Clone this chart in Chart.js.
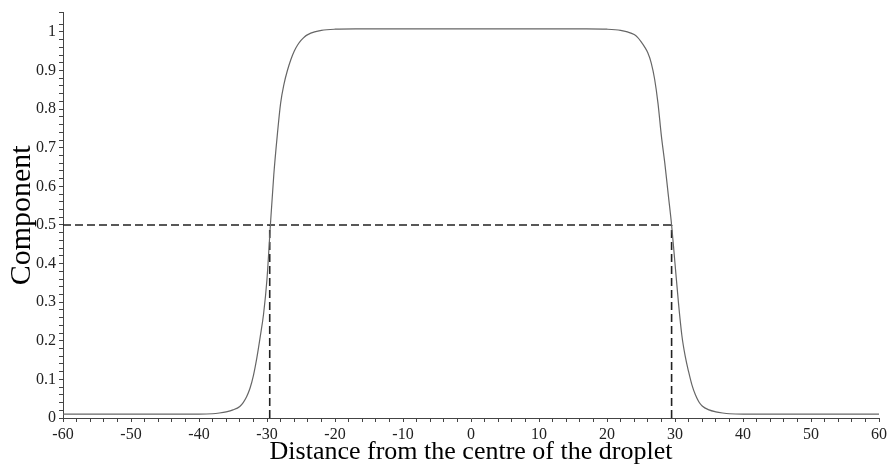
<!DOCTYPE html>
<html>
<head>
<meta charset="utf-8">
<script src="https://cdn.jsdelivr.net/npm/chart.js@4/dist/chart.umd.min.js"></script>
<style>
html,body{margin:0;padding:0;background:#fff;}
#wrap{width:887px;height:470px;}
</style>
</head>
<body>
<div id="wrap"><canvas id="c" width="887" height="470"></canvas></div>
<script>
// Profile of the component across the droplet
const distance = [-60,-45,-40,-38,-37,-36,-35,-34,-33.5,-33,-32.5,-32,-31.5,-31,-30.5,-30,-29.5,-29,-28.5,-28,-27.5,-27,-26.5,-26,-25.5,-25,-24.5,-24,-23,-22,-20,-17,0,17,20,22,23,24,24.5,25,25.5,26,26.5,27,27.5,28,28.5,29,29.5,30,30.5,31,31.5,32,32.5,33,33.5,34,35,36,37,38,40,45,60];
const component = [0.01,0.01,0.01,0.011,0.013,0.016,0.021,0.03,0.04,0.055,0.077,0.11,0.155,0.21,0.27,0.36,0.5,0.63,0.73,0.815,0.865,0.9,0.928,0.95,0.966,0.978,0.987,0.993,1.0,1.004,1.007,1.008,1.008,1.008,1.007,1.004,1.0,0.993,0.986,0.975,0.962,0.946,0.92,0.878,0.815,0.73,0.66,0.58,0.5,0.40,0.30,0.215,0.16,0.12,0.085,0.06,0.042,0.031,0.021,0.016,0.013,0.011,0.01,0.01,0.01];
// Half-level markers
const halfLevel = 0.5;
const leftHalfX = -29.6;
const rightHalfX = 29.5;
const xMin = -60, xMax = 60;
const yMin = 0, yMax = 1.05;

const curve = distance.map((x,i)=>({x:x,y:component[i]}));
const dashStyle = {borderColor:'#222',borderWidth:1.6,borderDash:[8,4],pointRadius:0,showLine:true,fill:false,tension:0};
const serif = '"Liberation Serif", "Times New Roman", serif';

new Chart(document.getElementById('c'),{
  type:'scatter',
  data:{datasets:[
    {data:curve,borderColor:'#666',borderWidth:1.2,pointRadius:0,showLine:true,fill:false,cubicInterpolationMode:'monotone'},
    Object.assign({data:[{x:xMin,y:halfLevel},{x:rightHalfX,y:halfLevel}]},dashStyle),
    Object.assign({data:[{x:leftHalfX,y:yMin},{x:leftHalfX,y:halfLevel}]},dashStyle),
    Object.assign({data:[{x:rightHalfX,y:yMin},{x:rightHalfX,y:halfLevel}]},dashStyle)
  ]},
  options:{
    responsive:false,
    animation:false,
    layout:{padding:{top:8,right:0,left:0,bottom:0}},
    plugins:{legend:{display:false},tooltip:{enabled:false}},
    scales:{
      x:{
        type:'linear',min:xMin,max:xMax,
        grid:{drawOnChartArea:false,drawTicks:true,tickLength:4,color:'#444'},
        border:{display:true,color:'#444',width:1},
        ticks:{stepSize:2,autoSkip:false,maxRotation:0,padding:3,color:'#222',
          font:{family:serif,size:16},
          callback:(v)=> (Math.abs(v/10-Math.round(v/10))<1e-6 ? String(Math.round(v)) : '')},
        title:{display:true,text:'Distance from the centre of the droplet',color:'#000',
          font:{family:serif,size:26},padding:{top:0,bottom:2}},
        afterFit:(s)=>{s.height=52; s.paddingRight=8;}
      },
      y:{
        type:'linear',min:yMin,max:yMax,
        grid:{drawOnChartArea:false,drawTicks:true,tickLength:4,color:'#444'},
        border:{display:true,color:'#444',width:1},
        ticks:{stepSize:0.02,autoSkip:false,padding:3,color:'#222',
          font:{family:serif,size:16},
          callback:(v)=>{const t=v*10; if(Math.abs(t-Math.round(t))<1e-6 && v<=1.0001){const r=Math.round(t)/10; return String(r);} return '';}},
        title:{display:true,text:'Component',color:'#000',
          font:{family:serif,size:30},padding:{top:4,bottom:0}},
        afterFit:(s)=>{s.width=63;}
      }
    }
  }
});
</script>
</body>
</html>
